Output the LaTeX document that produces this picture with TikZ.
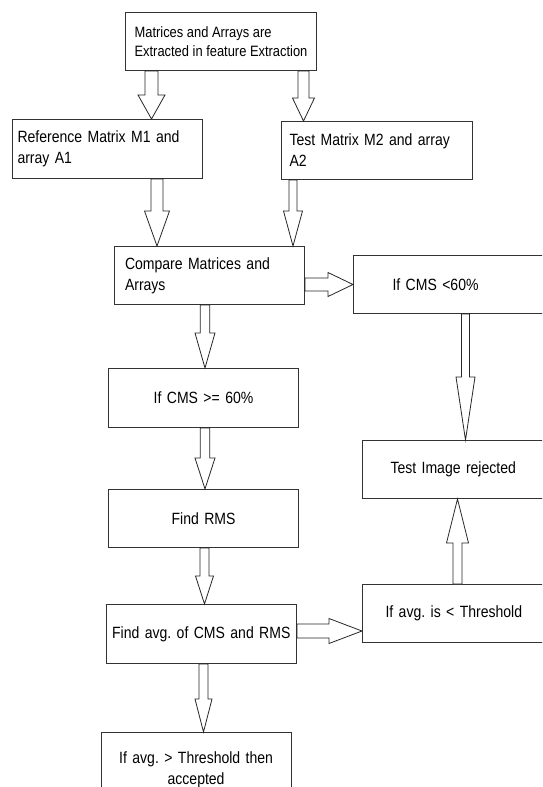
\documentclass[tikz,border=0pt]{standalone}
\usepackage{fontspec}
\setmainfont{Liberation Sans}[FakeStretch=0.86]
\usetikzlibrary{calc}
\frenchspacing

% hollow block arrow: start, end, shaft half width, head half width, head length
\newcommand{\blockarrow}[5]{%
  \draw[blockarrow] let \p1=#1, \p2=#2,
    \n1={atan2(\y2-\y1,\x2-\x1)}, \n2={veclen(\x2-\x1,\y2-\y1)} in
    {[shift={(\p1)}, rotate=\n1]
     (0pt,-#3pt) -- ({\n2*1pt-#5pt},-#3pt) -- ({\n2*1pt-#5pt},-#4pt) -- ({\n2*1pt},0pt)
     -- ({\n2*1pt-#5pt},#4pt) -- ({\n2*1pt-#5pt},#3pt) -- (0pt,#3pt) -- cycle};}

\tikzset{
  box/.style={draw=black!80, line width=1pt, rectangle, anchor=north west,
    inner ysep=0pt, font=\fontsize{16.3}{21}\selectfont},
  blockarrow/.style={draw=black!85, line width=0.8pt, fill=white},
}

\begin{document}
\begin{tikzpicture}[x=1pt,y=-1pt]
\useasboundingbox (0,0) rectangle (542,787);
\clip (0,0) rectangle (542,787);

% left column
\node[box, minimum width=191, minimum height=58, align=left,
      font=\fontsize{15}{18.5}\selectfont] (extract) at (125,12)
      {Matrices and Arrays are\\Extracted in feature Extraction};
\node[box, minimum width=190, minimum height=59, inner xsep=5, text width=180, align=left]
      (ref) at (12,119) {Reference Matrix M1 and\\array A1};
\node[box, minimum width=191, minimum height=58, inner xsep=8, text width=175, align=left]
      (test) at (281,121) {Test Matrix M2 and array\\A2};
\node[box, minimum width=190, minimum height=58, inner xsep=10.5, text width=169, align=left]
      (compare) at (114,246) {Compare Matrices and\\Arrays};
\node[box, minimum width=190, minimum height=59, text width=180, align=center]
      (cmshigh) at (108,368) {If CMS >= 60\%};
\node[box, minimum width=190, minimum height=58, text width=180, align=center]
      (findrms) at (108,489) {Find RMS};
\node[box, minimum width=190.5, minimum height=59, text width=180, align=center]
      (findavg) at (105.5,604) {Find avg. of CMS and RMS};
\node[box, minimum width=190, minimum height=75, text width=180, align=center]
      (accept) at (100.6,732) {If avg. > Threshold then\\accepted};

% right column
\node[box, minimum width=240, minimum height=58, inner xsep=39, text width=162, align=left]
      (cmslow) at (353,255) {If CMS <60\%};
\node[box, minimum width=240, minimum height=58, inner xsep=28.5, text width=183, align=left]
      (reject) at (361.5,440) {Test Image rejected};
\node[box, minimum width=240, minimum height=58, inner xsep=23, text width=194, align=left]
      (thresh) at (362,584) {If avg. is < Threshold};

% arrows
\coordinate (a1) at ($(extract.south west)+(26.5,0)$);
\coordinate (a2) at ($(extract.south west)+(178.5,0)$);
\coordinate (a3) at ($(ref.south west)+(145,0)$);
\coordinate (a4) at ($(test.south west)+(12,0)$);
\coordinate (a5) at ($(compare.north east)+(0,38.5)$);
\coordinate (a6) at ($(compare.south west)+(91,0)$);
\coordinate (a7) at ($(cmshigh.south west)+(97,0)$);
\coordinate (a8) at ($(cmslow.south west)+(112.5,0)$);
\coordinate (a9) at ($(findrms.south west)+(96.5,0)$);
\coordinate (a10) at ($(findavg.north east)+(0,27)$);
\coordinate (a11) at ($(thresh.north west)+(95.5,0)$);
\coordinate (a12) at ($(findavg.south west)+(98,0)$);

\blockarrow{(a1)}{(a1 |- ref.north)}{6.5}{13.5}{24}
\blockarrow{(a2)}{(a2 |- test.north)}{5.5}{11}{23}
\blockarrow{(a3)}{(a3 |- compare.north)}{6}{12.5}{35}
\blockarrow{(a4)}{(a4 |- compare.north)}{4}{9.5}{35}
\blockarrow{(a5)}{(a5 -| cmslow.west)}{6.5}{12}{25}
\blockarrow{(a6)}{(a6 |- cmshigh.north)}{4.75}{10}{35}
\blockarrow{(a7)}{(a7 |- findrms.north)}{4.75}{10}{31}
\blockarrow{(a8)}{(a8 |- reject.north)}{4}{9.5}{63}
\blockarrow{(a9)}{(a9 |- findavg.north)}{4.5}{9}{28}
\blockarrow{(a10)}{(a10 -| thresh.west)}{7}{12.5}{33}
\blockarrow{(a11)}{(a11 |- reject.south)}{4.5}{11}{44}
\blockarrow{(a12)}{(a12 |- accept.north)}{4.5}{8.5}{33}
\end{tikzpicture}
\end{document}
